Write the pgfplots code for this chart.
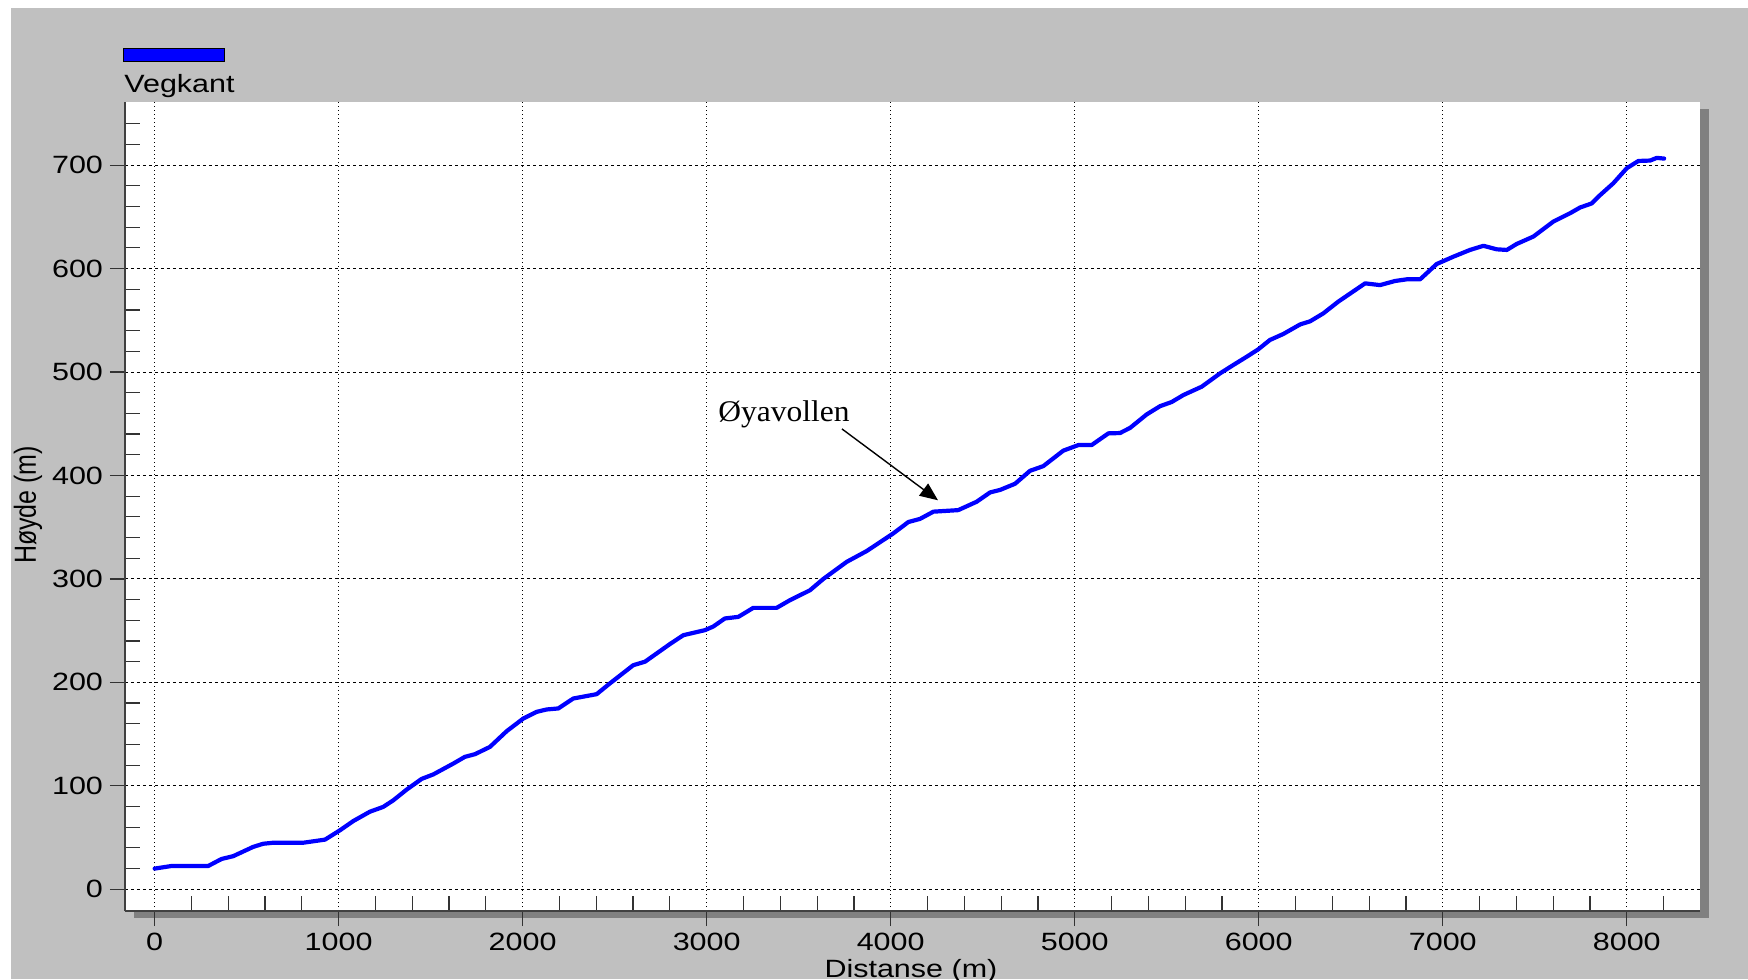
\documentclass[border=0pt]{standalone}
\usepackage{fontspec}
\setmainfont{Liberation Sans}[FakeStretch=1.22]
\newfontfamily\plainsans{Liberation Sans}
\newfontfamily\annotfont{Liberation Serif}[FakeStretch=1.05]
\usepackage{pgfplots}
\pgfplotsset{compat=1.18}
\usetikzlibrary{arrows.meta}
\definecolor{bggray}{HTML}{C0C0C0}
\definecolor{shadowgray}{HTML}{808080}
\definecolor{lineblue}{HTML}{0000FF}
\begin{document}
\begin{tikzpicture}
\path[use as bounding box] (-62.5pt,-34pt) rectangle (811.5pt,455.5pt);
\fill[white] (-62.5pt,-34pt) rectangle (811.5pt,455.5pt);
\fill[bggray] (-57pt,-34pt) rectangle (811.5pt,451.5pt);
\fill[shadowgray] (4.5pt,-3.5pt) rectangle (792pt,401pt);
% legend
\filldraw[fill=lineblue, draw=black, line width=0.5pt] (-0.5pt,424.5pt) rectangle (49.5pt,431pt);
\node[anchor=base west, inner sep=0pt, font=\fontsize{12.5}{15}\selectfont] at (-0.5pt,409pt) {Vegkant};
\begin{axis}[
    at={(0,0)}, anchor=south west,
    scale only axis,
    width=787.5pt, height=404.5pt,
    xmin=-161, xmax=8398,
    ymin=-21, ymax=761,
    axis x line*=bottom, axis y line*=left,
    axis background/.style={fill=white},
    axis line style={black!75, line width=1pt},
    xtick={0,1000,2000,3000,4000,5000,6000,7000,8000},
    ytick={0,100,200,300,400,500,600,700},
    minor xtick={200,400,600,800,1200,1400,1600,1800,2200,2400,2600,2800,3200,3400,3600,3800,4200,4400,4600,4800,5200,5400,5600,5800,6200,6400,6600,6800,7200,7400,7600,7800,8200},
    minor ytick={20,40,60,80,120,140,160,180,220,240,260,280,320,340,360,380,420,440,460,480,520,540,560,580,620,640,660,680,720,740},
    tick align=outside,
    major tick length=7.5pt,
    minor tick length=-7.5pt,
    every tick/.style={black!80, line width=0.6pt},
    grid=major,
    major x grid style={black, line width=0.5pt, dash pattern=on 0.6pt off 1.4pt},
    major y grid style={black, line width=0.5pt, dash pattern=on 1.5pt off 1.5pt},
    scaled ticks=false,
    /pgf/number format/1000 sep={},
    /pgf/number format/assume math mode=true,
    tick label style={font=\fontsize{12.5}{15}\selectfont},
    xlabel={Distanse (m)},
    ylabel={Høyde (m)},
    xlabel style={font=\fontsize{12.5}{15}\selectfont, at={(axis description cs:0.499,-0.0816)}, anchor=base},
    ylabel style={font=\plainsans\fontsize{12.5}{15}\selectfont, at={(axis description cs:-0.0616,0.502)}, anchor=center, yscale=1.22},
    clip=false,
]
\addplot[lineblue, line width=2.1pt, line join=round, line cap=round] coordinates {
(0,20)(92,22.5)(291,22.5)(364,29.3)(427,32)(536,41)(590,44)(645,45)(808,45)(926,48)
(1007,57)(1080,66)(1170,75)(1242,79.6)(1297,86)(1370,96.4)(1451,106.7)(1514,111)(1623,121.5)(1686,128)
(1741,130.6)(1822,137.6)(1913,152.8)(2003,165)(2076,171.5)(2130,173.8)(2194,174.8)(2275,184.4)(2402,188.6)(2474,199)
(2601,216.6)(2665,220)(2800,237)(2873,245.6)(2991,250.5)(3036,254)(3099,261.8)(3172,263.3)(3253,272)(3380,272)
(3453,279.5)(3561,289)(3634,300)(3761,316.5)(3870,327)(4014,344)(4096,355)(4159,358)(4232,365)(4367,366.5)
(4467,374.6)(4540,383.6)(4594,386)(4676,392)(4757,404.5)(4829,409)(4938,424)(5020,429.4)(5092,429.4)(5183,440.7)
(5246,441)(5301,446)(5391,459)(5464,467)(5527,471)(5590,477.7)(5690,485.8)(5790,498.7)(5862,506.8)(5935,514.8)
(5998,522)(6061,531)(6134,536.8)(6225,546)(6279,549)(6351,556.7)(6432,568)(6578,585.7)(6659,584)(6741,588)
(6804,589.6)(6877,589.6)(6967,604.4)(7058,611.5)(7148,618)(7221,622)(7293,618.6)(7348,618)(7402,623.8)(7492,630.9)
(7601,645.4)(7692,653.5)(7746,659)(7810,663)(7855,671)(7927,682.5)(8000,697)(8063,704)(8127,704.4)(8163,707)(8203,706.3)
};
\node[anchor=base west, inner sep=0pt, font=\annotfont\fontsize{15}{18}\selectfont] at (axis cs:3061,452) {Øyavollen};
\draw[black, line width=0.7pt, -{Triangle[length=9pt,width=7.5pt]}] (axis cs:3735,445) -- (axis cs:4257,376);
\end{axis}
\end{tikzpicture}
\end{document}
